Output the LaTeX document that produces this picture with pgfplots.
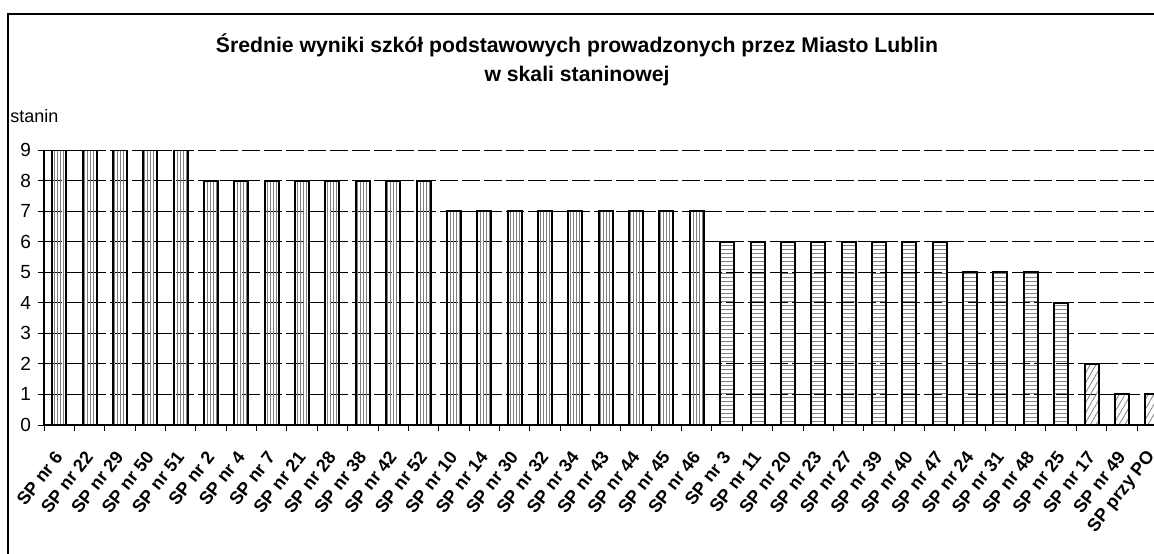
\documentclass[border=0pt]{standalone}
\usepackage{pgfplots}
\pgfplotsset{compat=1.18}
\usepackage{fontspec}
\setmainfont{Liberation Sans}
\usetikzlibrary{patterns.meta}
\begin{document}
\begin{tikzpicture}[x=1pt,y=1pt]
\useasboundingbox (0,0) rectangle (577,276.5);
\clip (0,0) rectangle (577,276.5);
\draw[line width=0.8pt] (4,-10) -- (4,269.5) -- (600,269.5);
\node[font=\bfseries\fontsize{10.6}{12}\selectfont] at (288.5,254) {Średnie wyniki szkół podstawowych prowadzonych przez Miasto Lublin};
\node[font=\bfseries\fontsize{10.6}{12}\selectfont] at (288.5,238.5) {w skali staninowej};
\node[anchor=west, font=\fontsize{9}{11}\selectfont, inner sep=0] at (5,218.5) {stanin};
\begin{axis}[
  at={(29.6pt,64pt)}, anchor=origin, scale only axis,
  width=561.7pt, height=137.5pt,
  xmin=-0.5, xmax=36.5, ymin=0, ymax=9,
  axis x line*=bottom, axis y line*=left,
  axis line style={line width=0.6pt},
  ytick={0,...,9}, minor ytick={0,...,9},
  xtick={0,...,36}, minor xtick={-0.5,0.5,...,36.5},
  major tick length=0pt, minor tick length=3pt,
  tick align=outside,
  tick style={black, line width=0.5pt},
  ymajorgrids, yminorgrids=false,
  grid style={black, line width=0.4pt, dash pattern=on 9pt off 2pt},
  /pgf/number format/assume math mode=true,
  yticklabel style={font=\fontsize{9.5}{11}\selectfont, xshift=-3pt},
  xticklabel style={xshift=0.5pt, yshift=-13.5pt, rotate=52, anchor=east, inner sep=1pt, font=\bfseries\fontsize{9}{11}\selectfont},
  xticklabels={SP nr 6,SP nr 22,SP nr 29,SP nr 50,SP nr 51,SP nr 2,SP nr 4,SP nr 7,SP nr 21,SP nr 28,SP nr 38,SP nr 42,SP nr 52,SP nr 10,SP nr 14,SP nr 30,SP nr 32,SP nr 34,SP nr 43,SP nr 44,SP nr 45,SP nr 46,SP nr 3,SP nr 11,SP nr 20,SP nr 23,SP nr 27,SP nr 39,SP nr 40,SP nr 47,SP nr 24,SP nr 31,SP nr 48,SP nr 25,SP nr 17,SP nr 49,SP przy PO},
  ybar, bar width=7pt,
]
\addplot[bar shift=0pt, draw=black, line width=1pt, pattern={Lines[angle=90,distance=1.5pt,line width=0.4pt]}, pattern color=gray]
coordinates {(0,9)(1,9)(2,9)(3,9)(4,9)(5,8)(6,8)(7,8)(8,8)(9,8)(10,8)(11,8)(12,8)(13,7)(14,7)(15,7)(16,7)(17,7)(18,7)(19,7)(20,7)(21,7)};
\addplot[bar shift=0pt, draw=black, line width=1pt, pattern={Lines[angle=0,distance=2pt,line width=0.4pt]}, pattern color=gray]
coordinates {(22,6)(23,6)(24,6)(25,6)(26,6)(27,6)(28,6)(29,6)(30,5)(31,5)(32,5)(33,4)};
\addplot[bar shift=0pt, draw=black, line width=1pt, pattern={Lines[angle=60,distance=2.5pt,line width=0.4pt]}, pattern color=gray]
coordinates {(34,2)(35,1)(36,1)};
\end{axis}
\end{tikzpicture}
\end{document}
